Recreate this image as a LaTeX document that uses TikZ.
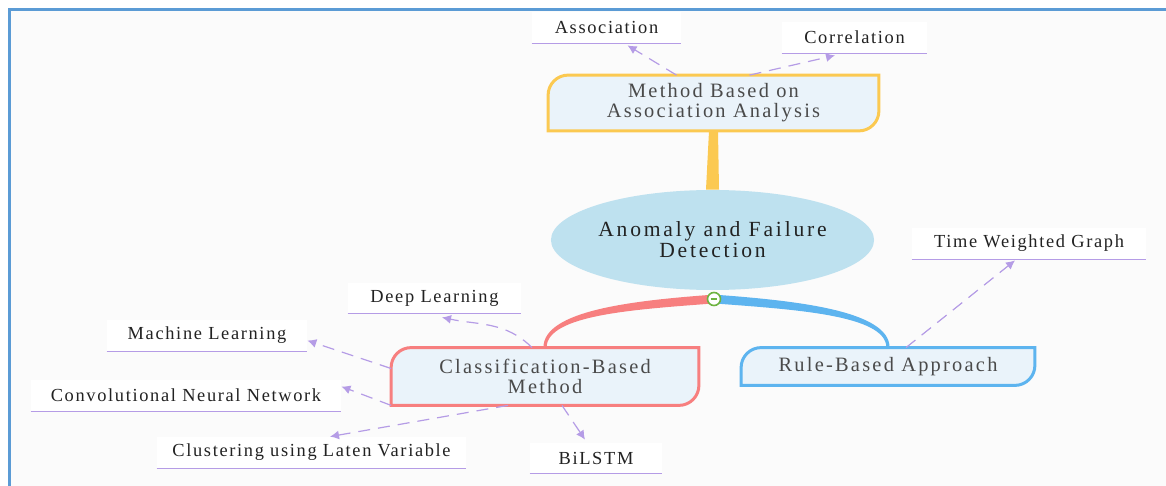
\documentclass[tikz,border=0pt]{standalone}
\usepackage{fontspec}
\setmainfont{Liberation Serif}
\newfontfamily\leaffont[LetterSpace=9]{Liberation Serif}
\newfontfamily\boxfont[LetterSpace=11]{Liberation Serif}
\newfontfamily\rootfont[LetterSpace=13]{Liberation Serif}
\usetikzlibrary{shapes.geometric,arrows.meta,backgrounds}

\definecolor{frameblue}{HTML}{5B9BD5}
\definecolor{bggray}{HTML}{FBFBFB}
\definecolor{rootfill}{HTML}{BEE1EF}
\definecolor{boxfill}{HTML}{EAF3FA}
\definecolor{boxtext}{HTML}{4A4A4A}
\definecolor{leaftext}{HTML}{222222}
\definecolor{mmyellow}{HTML}{FBC951}
\definecolor{mmred}{HTML}{F77F7F}
\definecolor{mmblue}{HTML}{5DB4EF}
\definecolor{mmgreen}{HTML}{6DB33F}
\definecolor{linkpurple}{HTML}{B59CE6}

\tikzset{
  leaf/.style={fill=white, text=leaftext, font=\leaffont\fontsize{9.2}{11}\selectfont,
    inner sep=0pt, minimum height=15.5pt},
  branch/.style={text=boxtext, font=\boxfont\fontsize{10.2}{10}\selectfont,
    align=center, inner sep=0pt},
  link/.style={draw=linkpurple, line width=0.6pt, dash pattern=on 6pt off 4pt,
    -{Latex[length=4.5pt,width=4.5pt]}},
}

\begin{document}
\begin{tikzpicture}[x=0.5pt,y=-0.5pt]

\useasboundingbox (0,0) rectangle (1166,486);

% center and main branches
\node[ellipse, fill=rootfill, inner sep=0pt, minimum width=157.5pt, minimum height=50pt,
  align=center, text=leaftext, font=\rootfont\fontsize{10.8}{10.5}\selectfont] (root) at (712.5,240) {Anomaly and Failure\\Detection};
\node[branch, minimum width=165pt, minimum height=27.5pt] (method) at (713.5,103) {Method Based on\\Association Analysis};
\node[branch, minimum width=153.5pt, minimum height=28.5pt] (classif) at (545,376.5) {Classification-Based\\Method};
\node[branch, minimum width=146.5pt, minimum height=18.5pt] (rule) at (888,366.5) {Rule-Based Approach};

\node[circle, draw=mmgreen, fill=white, line width=0.8pt, minimum size=6.5pt, inner sep=0pt] (hub) at (714,299) {};
\draw[mmgreen, line width=0.8pt] ([xshift=-1.7pt]hub.center) -- ([xshift=1.7pt]hub.center);

% leaves
\node[leaf, minimum width=74.5pt] (assoc) at (606.5,27.5) {Association};
\node[leaf, minimum width=72.5pt] (correl) at (854.5,37.5) {Correlation};
\node[leaf, minimum width=117pt] (twg) at (1029,243.5) {Time Weighted Graph};
\node[leaf, minimum width=86.5pt, minimum height=15pt] (deep) at (434.5,298) {Deep Learning};
\node[leaf, minimum width=100pt] (ml) at (207,335.5) {Machine Learning};
\node[leaf, minimum width=155pt] (cnn) at (186,395.5) {Convolutional Neural Network};
\node[leaf, minimum width=154.5pt] (clust) at (311.5,452.5) {Clustering using Laten Variable};
\node[leaf, minimum width=66pt, minimum height=15pt] (bilstm) at (596,458) {BiLSTM};

\foreach \n in {assoc,correl,twg,deep,ml,cnn,clust,bilstm}
    \draw[linkpurple, line width=0.5pt] (\n.south west) -- (\n.south east);

% dashed links
\draw[link] ([xshift=-18.5pt]method.north) -- ([xshift=10.5pt,yshift=-1pt]assoc.south);
\draw[link] ([xshift=18pt]method.north) -- ([xshift=-9.75pt,yshift=-1pt]correl.south);
\draw[link] ([xshift=9pt]rule.north) -- ([xshift=-7pt,yshift=-0.5pt]twg.south);
\draw[link] ([xshift=-6.5pt]classif.north) to[out=135,in=-12] ([xshift=3.75pt,yshift=-2pt]deep.south);
\draw[link] ([yshift=4pt]classif.west) -- ([yshift=-2.5pt]ml.east);
\draw[link] (classif.south west) -- ([yshift=4.5pt]cnn.east);
\draw[link] ([xshift=-18.5pt]classif.south) -- ([xshift=9.25pt]clust.north);
\draw[link] ([xshift=8.5pt]classif.south) -- ([xshift=-5.5pt,yshift=1.5pt]bilstm.north);

\begin{scope}[on background layer]
\fill[bggray] (9,9) rectangle (1166,486);
\draw[frameblue, line width=1.5pt] (9.5,486) -- (9.5,9.5) -- (1166,9.5);

\foreach \n/\c in {method/mmyellow,classif/mmred,rule/mmblue}
    \draw[draw=\c, line width=1.5pt, fill=boxfill] (\n.west) [rounded corners=10pt] -- (\n.north west) -- (\n.north)
      [sharp corners] -- (\n.north east) -- (\n.east) [rounded corners=10pt] -- (\n.south east) -- (\n.south)
      [sharp corners] -- (\n.south west) -- cycle;

\fill[mmyellow] ([xshift=-2.25pt]method.south) -- ([xshift=2.25pt]method.south)
    -- ([xshift=3.25pt]root.north) -- ([xshift=-3.25pt]root.north) -- cycle;

\fill[mmred] ([yshift=2.2pt]hub.center) .. controls +(-82,6) and +(0,-37) .. ([xshift=-0.8pt]classif.north)
    -- ([xshift=0.8pt]classif.north) .. controls +(0,-33) and +(-78,6) .. ([yshift=-2.2pt]hub.center) -- cycle;
\fill[mmblue] ([yshift=2.2pt]hub.center) .. controls +(82,6) and +(0,-37) .. ([xshift=0.8pt]rule.north)
    -- ([xshift=-0.8pt]rule.north) .. controls +(0,-33) and +(78,6) .. ([yshift=-2.2pt]hub.center) -- cycle;
\end{scope}

\end{tikzpicture}
\end{document}
